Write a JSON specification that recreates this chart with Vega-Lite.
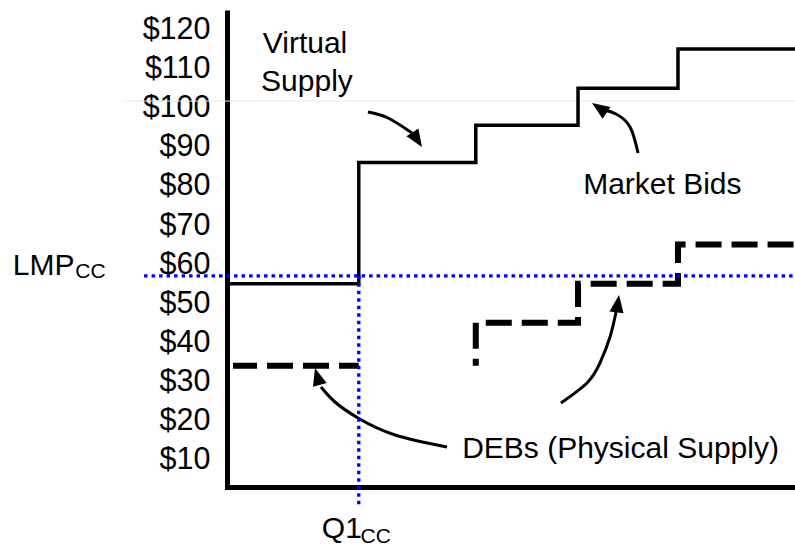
{
  "$schema": "https://vega.github.io/schema/vega-lite/v6.json",
  "width": 568,
  "height": 477,
  "autosize": {"type": "none"},
  "padding": {"left": 227, "top": 10, "right": 0, "bottom": 59},
  "background": "white",
  "config": {"view": {"stroke": null}, "font": "Liberation Sans"},
  "datasets": {
    "vs": [{"x": 0, "y": 55}, {"x": 23.2, "y": 86}, {"x": 43.8, "y": 95.5}, {"x": 61.8, "y": 105}, {"x": 79.4, "y": 115}, {"x": 100, "y": 115}],
    "deb1": [{"x": 1.06, "y": 34}, {"x": 23.2, "y": 34}],
    "deb2": [{"i": 0, "x": 43.8, "y": 34}, {"i": 1, "x": 43.8, "y": 45}, {"i": 2, "x": 61.8, "y": 55}, {"i": 3, "x": 79.4, "y": 65}, {"i": 4, "x": 100, "y": 65}],
    "lmp": [{"x": -14.6, "x2": 100, "y": 57}],
    "q1": [{"x": 23.2, "y": 57, "y2": -1.6}],
    "faint": [{"x": -18.5, "x2": 100, "y": 101.7}],
    "arrows": [
      {"a": "vs", "i": 0, "x": 24.82, "y": 98.91},
      {"a": "vs", "i": 1, "x": 28.35, "y": 97.38},
      {"a": "vs", "i": 2, "x": 32.57, "y": 93.54},
      {"a": "mb", "i": 0, "x": 72.36, "y": 88.43},
      {"a": "mb", "i": 1, "x": 70.95, "y": 95.08},
      {"a": "mb", "i": 2, "x": 68.49, "y": 98.4},
      {"a": "mb", "i": 3, "x": 66.37, "y": 99.42},
      {"a": "dl", "i": 0, "x": 38.73, "y": 13.24},
      {"a": "dl", "i": 1, "x": 29.58, "y": 16.3},
      {"a": "dl", "i": 2, "x": 23.06, "y": 20.65},
      {"a": "dl", "i": 3, "x": 19.01, "y": 24.74},
      {"a": "dl", "i": 4, "x": 16.55, "y": 28.58},
      {"a": "dr", "i": 0, "x": 58.8, "y": 24.49},
      {"a": "dr", "i": 1, "x": 63.38, "y": 29.6},
      {"a": "dr", "i": 2, "x": 65.67, "y": 34.72},
      {"a": "dr", "i": 3, "x": 67.43, "y": 41.37},
      {"a": "dr", "i": 4, "x": 68.49, "y": 47.76}
    ],
    "heads": [
      {"a": "vs", "x": 34.33, "y": 89.96},
      {"a": "mb", "x": 64.26, "y": 101.21},
      {"a": "dl", "x": 15.49, "y": 33.44},
      {"a": "dr", "x": 69.01, "y": 52.11}
    ],
    "labels": [
      {"t": "Virtual", "x": 6.3, "y": 114.0},
      {"t": "Supply", "x": 6.0, "y": 104.2},
      {"t": "Market Bids", "x": 62.7, "y": 77.9},
      {"t": "DEBs (Physical Supply)", "x": 41.4, "y": 10.4},
      {"t": "LMP", "x": -37.7, "y": 57.2},
      {"t": "Q1", "x": 16.7, "y": -10.0}
    ],
    "subs": [
      {"t": "CC", "x": -26.7, "y": 56.5},
      {"t": "CC", "x": 23.5, "y": -11.3}
    ]
  },
  "encoding": {
    "x": {
      "field": "x", "type": "quantitative",
      "scale": {"domain": [0, 100], "nice": false, "zero": false},
      "axis": {"title": null, "labels": false, "ticks": false, "tickSize": 0, "grid": false, "domainWidth": 5, "domainColor": "black", "domainCap": "square"}
    },
    "y": {
      "field": "y", "type": "quantitative",
      "scale": {"domain": [3, 125], "nice": false, "zero": false},
      "axis": {"title": null, "values": [10, 20, 30, 40, 50, 60, 70, 80, 90, 100, 110, 120], "labelExpr": "'$' + datum.value", "ticks": false, "tickSize": 0, "grid": false, "domainWidth": 5, "domainColor": "black", "labelFont": "Liberation Sans", "labelFontSize": 30.5, "labelColor": "black", "labelPadding": 17, "labelFlush": false, "labelOverlap": false}
    }
  },
  "layer": [
    {"data": {"name": "faint"}, "mark": {"type": "rule", "color": "#e6e6dc", "strokeWidth": 1}, "encoding": {"x2": {"field": "x2"}}},
    {"data": {"name": "vs"}, "mark": {"type": "line", "interpolate": "step-after", "color": "black", "strokeWidth": 3.5}, "encoding": {}},
    {"data": {"name": "deb1"}, "mark": {"type": "line", "color": "black", "strokeWidth": 6, "strokeDash": [26, 10], "strokeDashOffset": 2}, "encoding": {}},
    {"data": {"name": "deb2"}, "mark": {"type": "line", "interpolate": "step-after", "color": "black", "strokeWidth": 6, "strokeDash": [26, 10], "strokeDashOffset": 19}, "encoding": {"order": {"field": "i"}}},
    {"data": {"name": "arrows"}, "mark": {"type": "line", "interpolate": "natural", "color": "black", "strokeWidth": 3}, "encoding": {"detail": {"field": "a"}, "order": {"field": "i"}}},
    {"data": {"name": "heads"}, "transform": [{"filter": "datum.a === 'vs'"}], "mark": {"type": "point", "shape": "M0,0L0.75,1.85L-0.75,1.85Z", "size": 360, "angle": 147, "filled": true, "color": "black", "opacity": 1, "strokeWidth": 0}, "encoding": {}},
    {"data": {"name": "heads"}, "transform": [{"filter": "datum.a === 'mb'"}], "mark": {"type": "point", "shape": "M0,0L0.75,1.85L-0.75,1.85Z", "size": 360, "angle": 304, "filled": true, "color": "black", "opacity": 1, "strokeWidth": 0}, "encoding": {}},
    {"data": {"name": "heads"}, "transform": [{"filter": "datum.a === 'dl'"}], "mark": {"type": "point", "shape": "M0,0L0.75,1.85L-0.75,1.85Z", "size": 360, "angle": 344, "filled": true, "color": "black", "opacity": 1, "strokeWidth": 0}, "encoding": {}},
    {"data": {"name": "heads"}, "transform": [{"filter": "datum.a === 'dr'"}], "mark": {"type": "point", "shape": "M0,0L0.75,1.85L-0.75,1.85Z", "size": 360, "angle": 8, "filled": true, "color": "black", "opacity": 1, "strokeWidth": 0}, "encoding": {}},
    {"data": {"name": "lmp"}, "mark": {"type": "rule", "color": "#0000ff", "strokeWidth": 3.3, "strokeDash": [3.5, 4]}, "encoding": {"x2": {"field": "x2"}}},
    {"data": {"name": "q1"}, "mark": {"type": "rule", "color": "#0000ff", "strokeWidth": 3.3, "strokeDash": [3.5, 4]}, "encoding": {"y2": {"field": "y2"}}},
    {"data": {"name": "labels"}, "mark": {"type": "text", "align": "left", "baseline": "alphabetic", "fontSize": 30, "font": "Liberation Sans", "color": "black"}, "encoding": {"text": {"field": "t"}}},
    {"data": {"name": "subs"}, "mark": {"type": "text", "align": "left", "baseline": "alphabetic", "fontSize": 21, "font": "Liberation Sans", "color": "black"}, "encoding": {"text": {"field": "t"}}}
  ]
}
